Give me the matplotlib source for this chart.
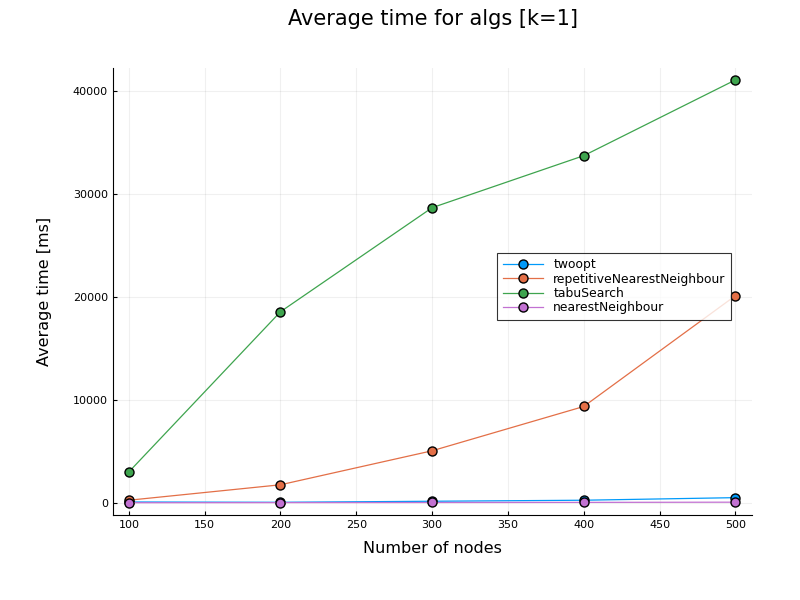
import matplotlib
matplotlib.use("Agg")
import matplotlib.pyplot as plt

nodes = [100, 200, 300, 400, 500]
twoopt = [80, 50, 150, 250, 500]
repetitive_nn = [250, 1750, 5050, 9350, 20100]
tabu_search = [3000, 18550, 28650, 33700, 41050]
nearest_nn = [10, 20, 30, 40, 60]

series = [
    ("twoopt", twoopt, "#009AFA"),
    ("repetitiveNearestNeighbour", repetitive_nn, "#E36F47"),
    ("tabuSearch", tabu_search, "#3EA44E"),
    ("nearestNeighbour", nearest_nn, "#C271D2"),
]

fig = plt.figure(figsize=(8, 6), dpi=100)
ax = fig.add_axes([0.141, 0.142, 0.799, 0.745])

for name, vals, col in series:
    ax.plot(nodes, vals, color=col, lw=0.9, marker="o", ms=6.5,
            markeredgecolor="black", markeredgewidth=1, label=name)

ax.set_xlim(89.4, 511)
ax.set_ylim(-1165, 42233)
ax.set_xticks([100, 150, 200, 250, 300, 350, 400, 450, 500])
ax.set_yticks([0, 10000, 20000, 30000, 40000])
ax.grid(True, color="black", alpha=0.06, lw=0.8)
ax.spines["top"].set_visible(False)
ax.spines["right"].set_visible(False)
ax.tick_params(direction="in", labelsize=8, length=3)

ax.set_xlabel("Number of nodes", fontsize=11.5, labelpad=8)
ax.set_ylabel("Average time [ms]", fontsize=11.5)
ax.yaxis.set_label_coords(-0.095, 0.5)
fig.suptitle("Average time for algs [k=1]", fontsize=15, x=0.541, y=0.985)

leg = ax.legend(loc="upper left", bbox_to_anchor=(0.601, 0.586), fontsize=8.9,
                frameon=True, fancybox=False, edgecolor="black",
                borderpad=0.45, handlelength=3.3, labelspacing=0.1,
                borderaxespad=0)
leg.get_frame().set_linewidth(0.8)

fig.savefig("out.png")
